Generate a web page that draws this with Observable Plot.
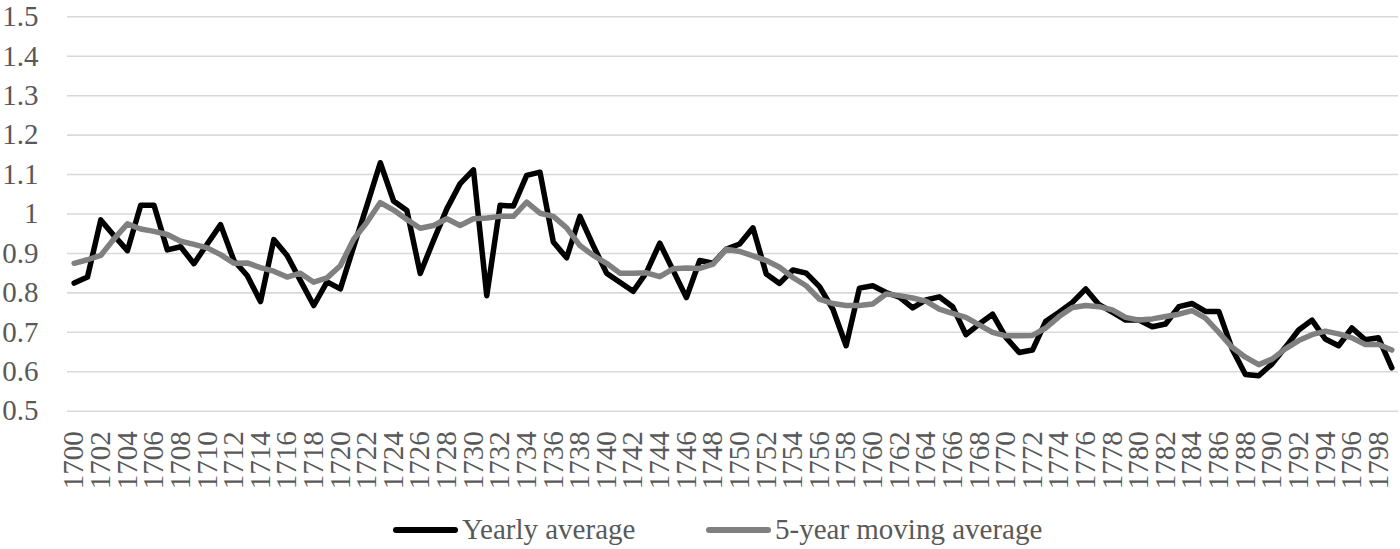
<!DOCTYPE html>
<html>
<head>
<meta charset="utf-8">
<script src="https://cdn.jsdelivr.net/npm/d3@7"></script>
<script src="https://cdn.jsdelivr.net/npm/@observablehq/plot@0.6"></script>
<style>
  html, body { margin: 0; padding: 0; background: #fff; }
  #wrap { width: 1400px; font-family: "Liberation Serif", "Times New Roman", serif; color: #595959; }
  #chart svg text { font-family: "Liberation Serif", "Times New Roman", serif; }
  #legend { position: relative; width: 1400px; height: 39px; font-size: 29px; }
  #legend .sw { position: absolute; top: 17px; height: 6px; border-radius: 3px; }
  #legend .lb { position: absolute; top: 2px; line-height: 34px; white-space: nowrap; }
</style>
</head>
<body>
<div id="wrap">
  <div id="chart"></div>
  <div id="legend"></div>
</div>
<script>
const years = d3.range(1700, 1800);
const yearly = [
  0.825, 0.840, 0.985, 0.945, 0.907, 1.022, 1.022, 0.909, 0.917, 0.874,
  0.924, 0.973, 0.882, 0.844, 0.778, 0.935, 0.895, 0.831, 0.768, 0.828,
  0.810, 0.917, 1.022, 1.130, 1.033, 1.009, 0.849, 0.933, 1.013, 1.077,
  1.112, 0.793, 1.022, 1.020, 1.098, 1.106, 0.929, 0.889, 0.994, 0.920,
  0.850, 0.827, 0.804, 0.852, 0.926, 0.857, 0.788, 0.882, 0.875, 0.911,
  0.924, 0.965, 0.848, 0.824, 0.858, 0.850, 0.816, 0.759, 0.666, 0.812,
  0.818, 0.801, 0.789, 0.762, 0.782, 0.790, 0.765, 0.694, 0.721, 0.746,
  0.687, 0.649, 0.655, 0.728, 0.751, 0.776, 0.810, 0.770, 0.751, 0.731,
  0.731, 0.714, 0.721, 0.765, 0.773, 0.753, 0.753, 0.658, 0.593, 0.590,
  0.620, 0.662, 0.706, 0.731, 0.683, 0.666, 0.711, 0.681, 0.686, 0.610
];
const movingAvg = [
  0.875, 0.884, 0.895, 0.937, 0.975, 0.962, 0.956, 0.948, 0.931, 0.923,
  0.914, 0.897, 0.875, 0.876, 0.864, 0.855, 0.840, 0.850, 0.827, 0.838,
  0.869, 0.936, 0.979, 1.029, 1.010, 0.986, 0.964, 0.971, 0.988, 0.971,
  0.988, 0.990, 0.994, 0.994, 1.030, 1.002, 0.994, 0.965, 0.920, 0.895,
  0.875, 0.850, 0.850, 0.851, 0.841, 0.861, 0.863, 0.862, 0.873, 0.911,
  0.905, 0.894, 0.882, 0.865, 0.839, 0.818, 0.784, 0.773, 0.768, 0.768,
  0.772, 0.797, 0.793, 0.787, 0.779, 0.759, 0.748, 0.738, 0.719, 0.700,
  0.691, 0.691, 0.692, 0.711, 0.740, 0.763, 0.768, 0.765, 0.757, 0.738,
  0.731, 0.734, 0.740, 0.746, 0.755, 0.736, 0.700, 0.662, 0.637, 0.618,
  0.632, 0.658, 0.679, 0.694, 0.703, 0.696, 0.686, 0.669, 0.669, 0.655
];
const seriesNames = ["Yearly average", "5-year moving average"];
const seriesColors = ["#000000", "#808080"];
const yTicks = [0.5, 0.6, 0.7, 0.8, 0.9, 1.0, 1.1, 1.2, 1.3, 1.4, 1.5];
const xTicks = years.filter(y => y % 2 === 0);

const rows = years.map((year, i) => ({year, yearly: yearly[i], avg: movingAvg[i]}));
const serif = '"Liberation Serif", "Times New Roman", serif';

const chart = Plot.plot({
  width: 1400,
  height: 510,
  marginLeft: 67,
  marginRight: 2,
  marginTop: 16.3,
  marginBottom: 99.3,
  style: {fontFamily: serif, color: "#595959", background: "#fff"},
  x: {type: "point", domain: years, padding: 0.5},
  y: {domain: [0.5, 1.5]},
  marks: [
    Plot.ruleY(yTicks, {stroke: "#d9d9d9", strokeWidth: 1.6}),
    Plot.axisY({ticks: yTicks, tickSize: 0, tickPadding: 29, fontSize: 29, fontFamily: serif, label: null,
      tickFormat: d => String(+d.toFixed(1)), fill: "#595959"}),
    Plot.axisX({ticks: xTicks, tickSize: 0, tickRotate: -90, tickPadding: 20, fontSize: 29, fontFamily: serif, label: null,
      tickFormat: d => String(d), fill: "#595959"}),
    Plot.line(rows, {x: "year", y: "yearly", stroke: seriesColors[0], strokeWidth: 5.5,
      strokeLinejoin: "round", strokeLinecap: "round"}),
    Plot.line(rows, {x: "year", y: "avg", stroke: seriesColors[1], strokeWidth: 5.5,
      strokeLinejoin: "round", strokeLinecap: "round"})
  ]
});
document.getElementById("chart").appendChild(chart);

const legend = document.getElementById("legend");
const items = [
  {sw: 393, lb: 462},
  {sw: 706, lb: 775}
];
items.forEach((it, i) => {
  const s = document.createElement("span");
  s.className = "sw";
  s.style.left = it.sw + "px";
  s.style.width = "65px";
  s.style.background = seriesColors[i];
  legend.appendChild(s);
  const t = document.createElement("span");
  t.className = "lb";
  t.style.left = it.lb + "px";
  t.textContent = seriesNames[i];
  legend.appendChild(t);
});
</script>
</body>
</html>
